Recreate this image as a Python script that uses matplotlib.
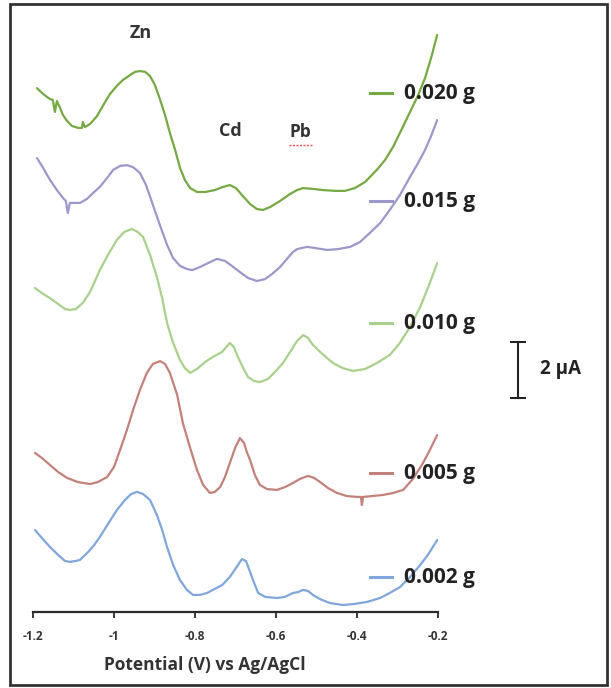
import numpy as np
import matplotlib
matplotlib.use('Agg')
import matplotlib.pyplot as plt
from matplotlib.lines import Line2D
from matplotlib.patches import Rectangle

plt.rcParams['font.family'] = ['Open Sans', 'DejaVu Sans']

### data: potential (V) and stacked current (uA)
v002 = [-1.195, -1.178, -1.158, -1.138, -1.121, -1.109, -1.096, -1.084, -1.064, -1.049,
        -1.035, -1.015, -0.993, -0.973, -0.958, -0.943, -0.928, -0.911, -0.894, -0.881,
        -0.869, -0.854, -0.837, -0.820, -0.805, -0.788, -0.770, -0.756, -0.733, -0.714,
        -0.699, -0.684, -0.674, -0.664, -0.654, -0.644, -0.627, -0.598, -0.578, -0.558,
        -0.546, -0.533, -0.521, -0.509, -0.491, -0.467, -0.435, -0.405, -0.375, -0.343,
        -0.319, -0.294, -0.269, -0.244, -0.225, -0.202]
i002 = [2.93, 2.64, 2.32, 2.04, 1.82, 1.79, 1.82, 1.86, 2.14, 2.39,
        2.68, 3.14, 3.64, 4.00, 4.21, 4.29, 4.21, 4.00, 3.46, 2.93,
        2.32, 1.68, 1.14, 0.79, 0.61, 0.61, 0.68, 0.79, 0.96, 1.25,
        1.57, 1.89, 1.82, 1.43, 1.04, 0.68, 0.54, 0.50, 0.54, 0.68,
        0.71, 0.79, 0.75, 0.61, 0.46, 0.32, 0.25, 0.29, 0.36, 0.50,
        0.68, 0.89, 1.25, 1.68, 2.04, 2.57]

v005 = [-1.195, -1.178, -1.158, -1.138, -1.116, -1.089, -1.059, -1.040, -1.017, -1.000,
        -0.985, -0.968, -0.953, -0.936, -0.919, -0.904, -0.886, -0.874, -0.862, -0.844,
        -0.830, -0.812, -0.795, -0.780, -0.763, -0.751, -0.738, -0.726, -0.714, -0.701,
        -0.689, -0.679, -0.672, -0.664, -0.652, -0.640, -0.622, -0.598, -0.578, -0.558,
        -0.541, -0.521, -0.506, -0.491, -0.472, -0.449, -0.425, -0.400, -0.390, -0.388,
        -0.385, -0.363, -0.336, -0.311, -0.286, -0.262, -0.237, -0.220, -0.202]
i005 = [5.68, 5.50, 5.25, 5.00, 4.79, 4.64, 4.57, 4.64, 4.82, 5.18,
        5.79, 6.50, 7.21, 7.93, 8.54, 8.86, 8.96, 8.86, 8.54, 7.75,
        6.75, 5.86, 5.07, 4.54, 4.25, 4.29, 4.46, 4.82, 5.32, 5.86,
        6.21, 6.04, 5.71, 5.43, 4.89, 4.54, 4.39, 4.36, 4.46, 4.61,
        4.75, 4.86, 4.79, 4.64, 4.43, 4.25, 4.14, 4.11, 4.11, 3.82,
        4.11, 4.14, 4.18, 4.25, 4.36, 4.75, 5.32, 5.79, 6.32]

v010 = [-1.195, -1.178, -1.158, -1.138, -1.121, -1.109, -1.094, -1.077, -1.059, -1.035,
        -1.015, -0.993, -0.975, -0.956, -0.941, -0.928, -0.911, -0.894, -0.881, -0.869,
        -0.854, -0.837, -0.825, -0.812, -0.795, -0.775, -0.756, -0.733, -0.714, -0.704,
        -0.694, -0.681, -0.669, -0.654, -0.640, -0.620, -0.600, -0.583, -0.565, -0.548,
        -0.533, -0.521, -0.509, -0.491, -0.474, -0.459, -0.435, -0.410, -0.380, -0.351,
        -0.319, -0.294, -0.269, -0.244, -0.225, -0.202]
i010 = [11.57, 11.39, 11.21, 11.00, 10.82, 10.79, 10.82, 11.04, 11.43, 12.21,
        12.75, 13.29, 13.57, 13.68, 13.57, 13.39, 12.75, 11.96, 11.21, 10.32,
        9.61, 9.00, 8.71, 8.54, 8.68, 8.93, 9.11, 9.29, 9.61, 9.46,
        9.11, 8.71, 8.39, 8.25, 8.21, 8.32, 8.61, 8.89, 9.29, 9.68,
        9.89, 9.79, 9.54, 9.29, 9.07, 8.89, 8.71, 8.61, 8.68, 8.89,
        9.18, 9.61, 10.18, 10.89, 11.57, 12.46]

v015 = [-1.190, -1.175, -1.158, -1.141, -1.126, -1.119, -1.114, -1.109, -1.096, -1.084,
        -1.067, -1.052, -1.035, -1.017, -1.002, -0.985, -0.968, -0.953, -0.936, -0.921,
        -0.904, -0.886, -0.869, -0.854, -0.837, -0.820, -0.807, -0.788, -0.768, -0.746,
        -0.726, -0.709, -0.689, -0.669, -0.647, -0.627, -0.610, -0.590, -0.573, -0.558,
        -0.548, -0.536, -0.523, -0.504, -0.474, -0.447, -0.417, -0.393, -0.368, -0.343,
        -0.319, -0.294, -0.269, -0.249, -0.232, -0.217, -0.202]
i015 = [16.21, 15.86, 15.43, 15.07, 14.79, 14.68, 14.25, 14.61, 14.61, 14.61,
        14.75, 14.96, 15.18, 15.50, 15.79, 15.93, 15.96, 15.89, 15.68, 15.25,
        14.54, 13.79, 13.11, 12.64, 12.36, 12.25, 12.21, 12.32, 12.46, 12.61,
        12.54, 12.36, 12.14, 11.93, 11.82, 11.89, 12.07, 12.32, 12.61, 12.86,
        12.96, 13.00, 13.04, 13.00, 12.93, 12.96, 13.04, 13.21, 13.54, 13.89,
        14.36, 14.89, 15.54, 16.04, 16.50, 17.00, 17.57]

v020 = [-1.190, -1.178, -1.165, -1.158, -1.151, -1.146, -1.141, -1.133, -1.126, -1.116,
        -1.104, -1.089, -1.079, -1.077, -1.072, -1.059, -1.042, -1.025, -1.010, -0.993,
        -0.978, -0.960, -0.948, -0.936, -0.923, -0.911, -0.899, -0.886, -0.874, -0.862,
        -0.849, -0.837, -0.825, -0.812, -0.795, -0.775, -0.751, -0.731, -0.714, -0.699,
        -0.684, -0.664, -0.647, -0.632, -0.615, -0.590, -0.565, -0.548, -0.533, -0.509,
        -0.484, -0.454, -0.430, -0.405, -0.380, -0.351, -0.331, -0.311, -0.294, -0.269,
        -0.249, -0.232, -0.217, -0.202]
i020 = [18.71, 18.54, 18.39, 18.32, 18.29, 17.86, 18.25, 18.00, 17.75, 17.54,
        17.36, 17.29, 17.29, 17.50, 17.32, 17.43, 17.71, 18.14, 18.50, 18.79,
        19.00, 19.18, 19.29, 19.32, 19.29, 19.14, 18.82, 18.29, 17.75, 17.11,
        16.50, 15.86, 15.43, 15.14, 15.00, 15.00, 15.07, 15.18, 15.25, 15.14,
        14.89, 14.57, 14.39, 14.36, 14.46, 14.68, 14.93, 15.07, 15.14, 15.11,
        15.07, 15.04, 15.04, 15.14, 15.36, 15.79, 16.14, 16.61, 17.11, 17.86,
        18.46, 19.07, 19.79, 20.61]

labels = ['0.020 g', '0.015 g', '0.010 g', '0.005 g', '0.002 g']
colours = ['#76A844', '#9C98CA', '#A9D08C', '#C2817B', '#80A6DB']
xticks = [-1.2, -1.0, -0.8, -0.6, -0.4, -0.2]
xtickLabels = ['-1.2', '-1', '-0.8', '-0.6', '-0.4', '-0.2']

W, H = 611, 688
fig = plt.figure(figsize=(W / 100, H / 100), dpi=100)
ax = fig.add_axes([33 / W, 1 - 612 / H, 405 / W, 592 / H])

series = [(v020, i020), (v015, i015), (v010, i010), (v005, i005), (v002, i002)]
for (v, i), c in zip(series, colours):
    ax.plot(v, i, color=c, lw=1.6, solid_joinstyle='round', solid_capstyle='round')

ax.set_xlim(-1.2, -0.2)
ax.set_ylim(0, 592 / 28)
for s in ['left', 'right', 'top']:
    ax.spines[s].set_visible(False)
ax.spines['bottom'].set_color('#2b2b2b')
ax.spines['bottom'].set_linewidth(1.6)
ax.set_yticks([])
ax.set_xticks(xticks)
ax.set_xticklabels(xtickLabels, fontsize=8.5, fontweight='bold', color='#333333')
ax.tick_params(axis='x', direction='out', length=4, width=1.3, color='#2b2b2b', pad=9)
ax.set_xlabel('Potential (V) vs Ag/AgCl', fontsize=12.5, fontweight='bold',
              color='#333333')
# label centred at x ~ 205 px of the picture
ax.xaxis.set_label_coords((205 - 33) / 405, -53 / 592)
ax.xaxis.label.set_va('center')

# peak labels
fig.text(141 / W, 1 - 33 / H, 'Zn', fontsize=13, fontweight='bold', color='#333333',
         ha='center', va='center')
fig.text(230 / W, 1 - 131 / H, 'Cd', fontsize=13, fontweight='bold', color='#333333',
         ha='center', va='center')
fig.text(300 / W, 1 - 132 / H, 'Pb', fontsize=12.5, fontweight='bold',
         color='#333333', ha='center', va='center')
# spell-check squiggle under Pb
fig.add_artist(Line2D([289 / W, 313 / W], [1 - 145 / H, 1 - 145 / H], color='#e05050',
                      lw=1, ls=(0, (1.5, 1))))

# hand-placed legend next to the curve ends
legY = [93, 201, 323, 473, 577]
for lab, c, y in zip(labels, colours, legY):
    fig.add_artist(Line2D([370 / W, 392 / W], [1 - y / H, 1 - y / H], color=c, lw=2.2))
    fig.text(404 / W, 1 - y / H, lab, fontsize=15, fontweight='bold', color='#222222',
             ha='left', va='center')

# 2 uA scale bar in data units
xBar = -0.003
yBar = (612 - 398) / 28
ax.plot([xBar, xBar], [yBar, yBar + 2], color='#222222', lw=1.5, clip_on=False)
ax.plot([xBar, xBar], [yBar, yBar + 2], ls='none', marker='_', ms=11, mew=1.5,
        color='#222222', clip_on=False)
ax.text(xBar + 0.055, yBar + 1.05, '2 \u03bcA', fontsize=13.5, fontweight='bold',
        color='#222222', ha='left', va='center', clip_on=False)

# frame round the whole figure
fig.add_artist(Rectangle((10 / W, 3 / H), 597 / W, 681 / H, transform=fig.transFigure,
                         fill=False, ec='#333333', lw=2))

plt.savefig('out.png', dpi=100)
